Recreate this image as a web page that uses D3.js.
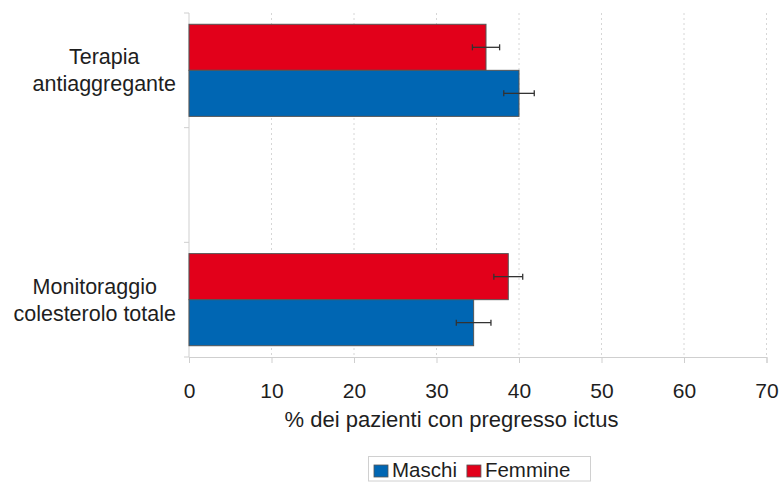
<!DOCTYPE html>
<html><head><meta charset="utf-8">
<script src="https://cdn.jsdelivr.net/npm/d3@7"></script>
<style>body{margin:0;background:#fff}svg{display:block;font-family:"Liberation Sans",Arial,sans-serif}</style>
</head><body><svg id="c" width="780" height="482"></svg>
<script>
const categories = [["Terapia","antiaggregante"], [], ["Monitoraggio","colesterolo totale"]];
const series = ["Femmine", "Maschi"];
const femmine = [36.0, null, 38.7];
const femmineErr = [1.65, null, 1.75];
const maschi = [40.0, null, 34.5];
const maschiErr = [1.85, null, 2.1];
const xTicks = [0, 10, 20, 30, 40, 50, 60, 70];
const xTitle = "% dei pazienti con pregresso ictus";
const legendOrder = ["Maschi", "Femmine"];
const colors = {Maschi: "#0066b3", Femmine: "#e2001a"};

const svg = d3.select("#c");
const m = {l: 189, t: 13, b: 125};
const W = 780, H = 482;
const x = d3.scaleLinear().domain([0, 70]).range([m.l, m.l + 577.5]);
const y = d3.scaleBand().domain(d3.range(categories.length)).range([m.t, H - m.b]).padding(0);
const sub = d3.scaleBand().domain(series).range([0, y.bandwidth()]).paddingOuter(0.245).paddingInner(0);

// grid lines
svg.append("g").selectAll("line").data(xTicks.filter(d => d > 0)).join("line")
  .attr("x1", d => x(d)).attr("x2", d => x(d)).attr("y1", m.t).attr("y2", H - m.b)
  .attr("stroke", "#d6d6d6").attr("stroke-dasharray", "2,3");

// axes
const ax = svg.append("g").attr("transform", `translate(0,${H - m.b})`)
  .call(d3.axisBottom(x).tickValues(xTicks).tickSize(6).tickPadding(20));
ax.select(".domain").attr("stroke", "#cfcfcf");
ax.selectAll(".tick line").attr("stroke", "#cfcfcf");
ax.selectAll("text").attr("font-size", 21).attr("fill", "#1e1e1e").attr("font-family", "Liberation Sans, Arial, sans-serif");

const bounds = d3.range(categories.length + 1).map(i => i < categories.length ? y(i) : y(categories.length - 1) + y.bandwidth());
svg.append("line").attr("x1", m.l).attr("x2", m.l).attr("y1", m.t).attr("y2", H - m.b).attr("stroke", "#cfcfcf");
svg.append("g").selectAll("line").data(bounds).join("line")
  .attr("x1", m.l - 5).attr("x2", m.l).attr("y1", d => d).attr("y2", d => d).attr("stroke", "#cfcfcf");

// bars
const data = [];
categories.forEach((c, i) => {
  if (femmine[i] != null) data.push({i, s: "Femmine", v: femmine[i], e: femmineErr[i]});
  if (maschi[i] != null) data.push({i, s: "Maschi", v: maschi[i], e: maschiErr[i]});
});
svg.append("g").selectAll("rect").data(data).join("rect")
  .attr("x", x(0)).attr("y", d => y(d.i) + sub(d.s))
  .attr("width", d => x(d.v) - x(0)).attr("height", sub.bandwidth())
  .attr("fill", d => colors[d.s]).attr("stroke", "#555").attr("stroke-width", 1);

// error bars
const eb = svg.append("g").attr("stroke", "#333").attr("stroke-width", 1.3);
data.forEach(d => {
  const cy = y(d.i) + sub(d.s) + sub.bandwidth() / 2;
  eb.append("line").attr("x1", x(d.v - d.e)).attr("x2", x(d.v + d.e)).attr("y1", cy).attr("y2", cy);
  [d.v - d.e, d.v + d.e].forEach(v => eb.append("line").attr("x1", x(v)).attr("x2", x(v)).attr("y1", cy - 3).attr("y2", cy + 3));
});

// category labels
categories.forEach((lines, i) => {
  if (!lines.length) return;
  const cy = y(i) + y.bandwidth() / 2;
  const g = svg.append("g");
  const lh = 27;
  const texts = lines.map((t, k) => g.append("text").text(t).attr("font-size", 21.5).attr("fill", "#1e1e1e")
    .attr("text-anchor", "middle").attr("dy", "0.35em")
    .attr("y", cy + (k - (lines.length - 1) / 2) * lh));
  const maxW = d3.max(texts, t => t.node().getComputedTextLength());
  texts.forEach(t => t.attr("x", 176 - maxW / 2));
});

// x title
svg.append("text").text(xTitle).attr("x", 451.5).attr("y", 427)
  .attr("text-anchor", "middle").attr("font-size", 22).attr("fill", "#1e1e1e");

// legend
const lg = svg.append("g");
lg.append("rect").attr("x", 368.5).attr("y", 456.5).attr("width", 222).attr("height", 24.5)
  .attr("fill", "#fff").attr("stroke", "#d0d0d0");
let lx = 374;
legendOrder.forEach(s => {
  lg.append("rect").attr("x", lx).attr("y", 465).attr("width", 14).attr("height", 12)
    .attr("fill", colors[s]).attr("stroke", "#555").attr("stroke-width", 0.8);
  const t = lg.append("text").text(s).attr("x", lx + 18).attr("y", 476.5).attr("font-size", 20.5).attr("fill", "#1e1e1e");
  lx += 18 + t.node().getComputedTextLength() + 10;
});
</script></body></html>
